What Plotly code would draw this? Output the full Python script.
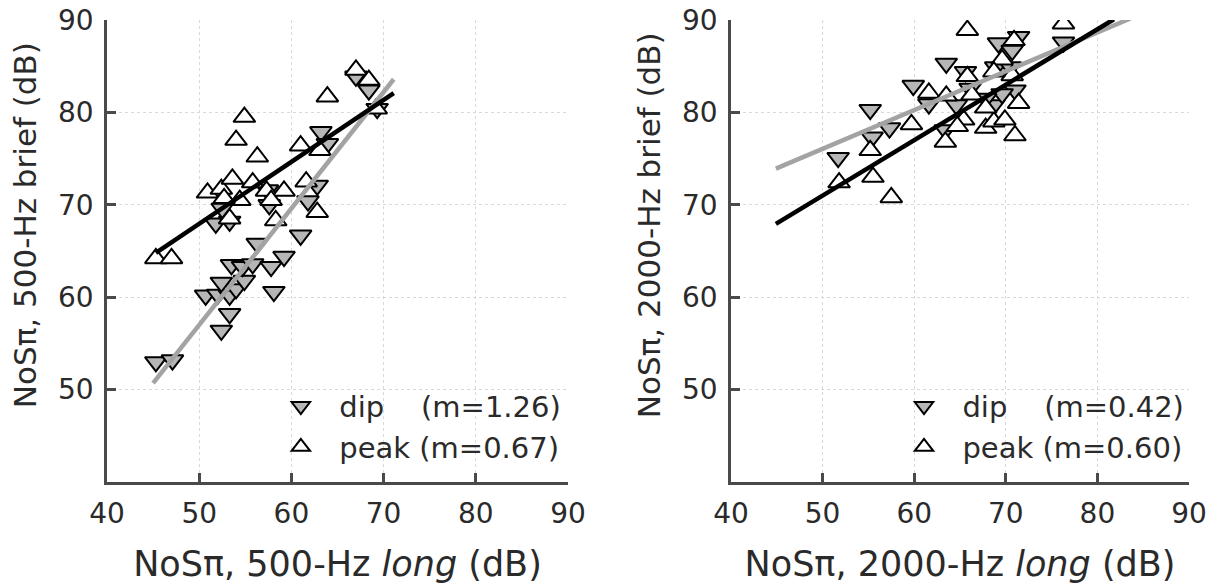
import plotly.graph_objects as go
import numpy as np

# ---------------- data ----------------
# Left panel: 500 Hz
l_dip_x = [45.3, 47.1, 50.7, 52.0, 53.3, 54.0, 53.3, 52.4, 52.4, 54.9, 53.5, 54.7, 55.8, 57.8, 59.2,
           56.3, 58.1, 61.0, 51.8, 53.3, 52.5, 57.6, 57.4, 61.8, 62.8, 63.2, 63.9, 67.0, 68.4, 69.3]
l_dip_y = [53.0, 53.2, 60.2, 60.3, 60.2, 60.9, 58.2, 56.4, 61.6, 61.8, 63.5, 63.3, 63.6, 63.3, 64.4,
           65.8, 60.6, 66.7, 68.0, 68.2, 69.6, 70.0, 71.6, 70.4, 72.1, 77.9, 76.6, 83.9, 82.4, 80.4]
l_peak_x = [45.3, 47.0, 50.9, 52.4, 53.6, 55.8, 57.3, 59.2, 61.6, 56.3, 54.0, 54.9, 61.0, 63.9, 63.1,
            67.0, 68.4, 69.2, 54.4, 52.7, 57.8, 58.3, 62.8, 53.3]
l_peak_y = [64.2, 64.2, 71.3, 71.7, 72.8, 72.4, 71.5, 71.5, 72.5, 75.2, 77.0, 79.5, 76.4, 81.7, 75.9,
            84.6, 83.5, 80.4, 70.5, 70.7, 70.5, 68.3, 69.2, 68.5]

# Right panel: 2000 Hz
r_dip_x = [51.7, 55.2, 55.4, 57.3, 59.9, 63.5, 63.4, 65.6, 66.1, 64.6, 61.6, 68.7, 69.2, 71.4, 70.7,
           68.9, 70.5, 71.0, 69.6, 76.3, 67.8]
r_dip_y = [75.1, 80.3, 77.3, 78.3, 82.9, 85.3, 78.1, 84.4, 82.6, 80.8, 80.9, 80.8, 87.5, 88.2, 86.7,
           84.9, 84.9, 82.4, 82.0, 87.6, 81.5]
r_peak_x = [51.8, 55.5, 55.2, 57.5, 59.7, 61.6, 63.5, 63.4, 65.8, 65.4, 64.7, 67.8, 68.7, 69.9, 71.0,
            76.3, 70.9, 69.6, 70.7, 71.4, 66.3, 65.8, 67.8, 68.7]
r_peak_y = [72.4, 73.0, 75.9, 70.8, 78.7, 82.1, 81.8, 76.8, 88.9, 79.2, 78.5, 78.3, 79.0, 79.2, 77.5,
            89.6, 87.8, 85.7, 84.0, 81.0, 81.9, 83.9, 80.5, 84.4]

# regression fits: slope, intercept, x-range
l_dip_fit = dict(m=1.26, b=-6.0, x=[45.0, 71.1])
l_peak_fit = dict(m=0.67, b=34.45, x=[45.3, 71.1])
r_dip_fit = dict(m=0.42, b=55.05, x=[44.9, 83.6])
r_peak_fit = dict(m=0.60, b=41.0, x=[44.9, 81.8])

NB = "\u00a0"
legend_left = [NB * 2 + "dip" + NB * 4 + "(m=1.26)", NB * 2 + "peak (m=0.67)"]
legend_right = [NB * 2 + "dip" + NB * 4 + "(m=0.42)", NB * 2 + "peak (m=0.60)"]

x_titles = ["NoSπ, 500-Hz <i>long</i> (dB)", "NoSπ, 2000-Hz <i>long</i> (dB)"]
y_titles = ["NoSπ, 500-Hz brief (dB)", "NoSπ, 2000-Hz brief (dB)"]

x_ticks = [40, 50, 60, 70, 80, 90]
y_ticks = [50, 60, 70, 80, 90]

# ---------------- style ----------------
FONT = "DejaVu Sans"
TXT = "#2a2a2a"
DIP_FILL = "#b6b6b6"
MS = 19

fig = go.Figure()


def add_panel(xa, ya, leg, dx, dy, px, py, dfit, pfit, names):
    fig.add_trace(go.Scatter(
        x=dx, y=dy, mode="markers", name=names[0], xaxis=xa, yaxis=ya, legend=leg,
        legendgroup=leg + "d",
        marker=dict(symbol="triangle-down", size=MS, color=DIP_FILL,
                    line=dict(color="black", width=2))))
    fig.add_trace(go.Scatter(
        x=px, y=py, mode="markers", name=names[1], xaxis=xa, yaxis=ya, legend=leg,
        legendgroup=leg + "p",
        marker=dict(symbol="triangle-up", size=MS, color="white",
                    line=dict(color="black", width=2))))
    fx = np.array(dfit["x"])
    fig.add_trace(go.Scatter(
        x=fx, y=dfit["m"] * fx + dfit["b"], mode="lines", xaxis=xa, yaxis=ya,
        showlegend=False, line=dict(color="#a3a3a3", width=4.5)))
    fx = np.array(pfit["x"])
    fig.add_trace(go.Scatter(
        x=fx, y=pfit["m"] * fx + pfit["b"], mode="lines", xaxis=xa, yaxis=ya,
        showlegend=False, line=dict(color="black", width=4.5)))


add_panel("x", "y", "legend", l_dip_x, l_dip_y, l_peak_x, l_peak_y, l_dip_fit, l_peak_fit, legend_left)
add_panel("x2", "y2", "legend2", r_dip_x, r_dip_y, r_peak_x, r_peak_y, r_dip_fit, r_peak_fit, legend_right)

W, H = 1228, 588
ML, MR, MT, MB = 107, 39, 20, 106
PW = W - ML - MR
d1 = [0, (568 - 107) / PW]
d2 = [(731 - 107) / PW, 1]

axis_common = dict(
    range=[40, 90], showline=True, linecolor="#4a4a4a", linewidth=2.5,
    ticks="inside", ticklen=9, tickwidth=2.5, tickcolor="#4a4a4a",
    showgrid=True, gridcolor="#d9d9d9", griddash="dot", gridwidth=1,
    zeroline=False, automargin=False, ticklabelstandoff=5,
    ticklabeloverflow="allow",
    tickfont=dict(family=FONT, size=28, color=TXT),
    title_font=dict(family=FONT, size=35, color=TXT),
)

fig.update_layout(
    width=W, height=H,
    margin=dict(l=ML, r=MR, t=MT, b=MB),
    paper_bgcolor="white", plot_bgcolor="white",
    font=dict(family=FONT, color=TXT),
    xaxis=dict(axis_common, domain=d1, tickvals=x_ticks,
               title=dict(text=x_titles[0], standoff=23)),
    yaxis=dict(axis_common, tickvals=y_ticks),
    xaxis2=dict(axis_common, domain=d2, anchor="y2", tickvals=x_ticks,
                title=dict(text=x_titles[1], standoff=23)),
    yaxis2=dict(axis_common, anchor="x2", tickvals=y_ticks),
    legend=dict(x=d1[1] - 0.002, y=0.02, xanchor="right", yanchor="bottom",
                bgcolor="rgba(0,0,0,0)", traceorder="grouped", tracegroupgap=0,
                font=dict(family=FONT, size=29, color=TXT)),
    legend2=dict(x=1.0, y=0.02, xanchor="right", yanchor="bottom",
                 bgcolor="rgba(0,0,0,0)", traceorder="grouped", tracegroupgap=0,
                 font=dict(family=FONT, size=29, color=TXT)),
)

# y-axis titles (placed slightly above axis centre, as in the original)
for xr, yr, txt in [("x domain", "y domain", y_titles[0]), ("x2 domain", "y2 domain", y_titles[1])]:
    fig.add_annotation(text=txt, xref=xr, yref=yr, x=0, y=0.556, xanchor="right",
                       yanchor="middle", xshift=-62, textangle=-90, showarrow=False,
                       font=dict(family=FONT, size=31, color=TXT))

# remove the default 8px page margin so the figure fills the window exactly
fig.write_html("out.html", config={"displayModeBar": False},
               post_script="document.body.style.margin='0';")
